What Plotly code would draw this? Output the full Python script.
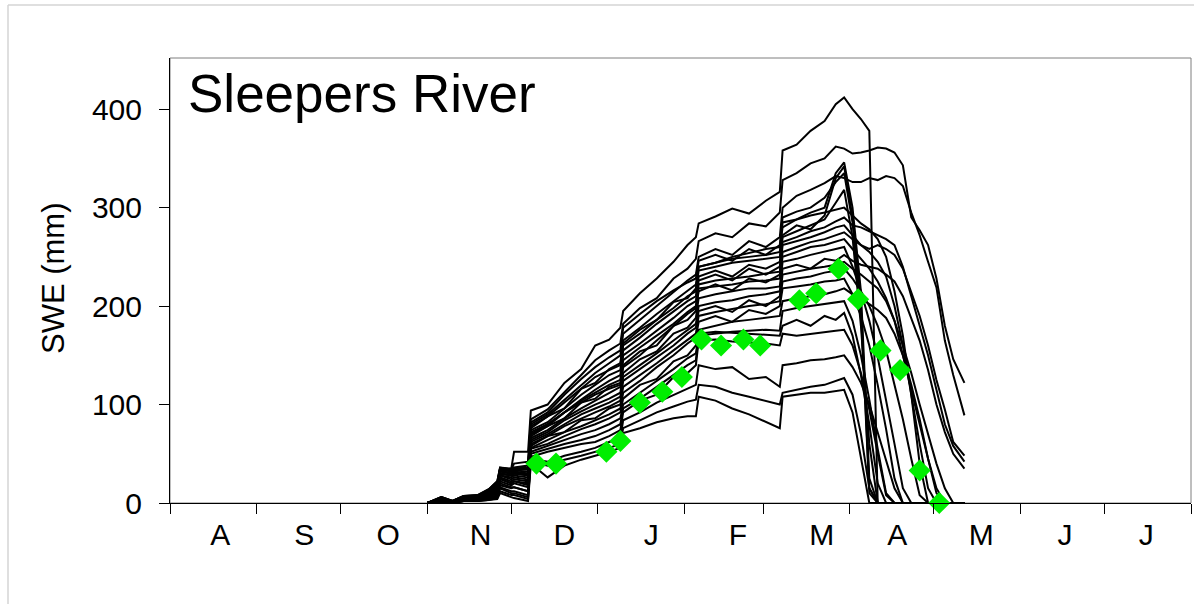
import plotly.graph_objects as go

# Day of water year (0 = 1 August) for every simulated value below
days = [92, 97, 101, 105, 110, 114, 117, 118, 122, 123, 128, 129, 135, 141, 147,
        152, 157, 161, 162, 168, 174, 180, 185, 188, 189, 195, 201, 207, 213, 218,
        219, 224, 229, 234, 238, 241, 244, 247, 250, 253, 256, 259, 262, 265, 268,
        271, 274, 277, 280, 284]

# Simulated snow water equivalent (mm), one list per ensemble member
swe_01 = [0, 6, 2, 7, 8, 14, 22, 36, 35, 52, 52, 94, 100, 122, 136, 160, 166, 178, 195, 213, 228, 245, 262, 270, 284, 291, 299, 294, 307, 316, 358, 364, 378, 388, 405, 412, 400, 390, 378, 0, 0, 0, 0, 0, 0, 0, 0, 0, 0, 0]
swe_02 = [0, 5, 2, 6, 7, 13, 20, 35, 34, 36, 38, 85, 95, 112, 130, 145, 155, 162, 182, 198, 208, 228, 238, 248, 266, 274, 270, 284, 281, 295, 328, 335, 345, 350, 362, 360, 355, 356, 358, 361, 360, 356, 343, 290, 277, 262, 228, 180, 146, 122]
swe_03 = [0, 5, 1, 6, 6, 12, 18, 34, 33, 35, 36, 80, 90, 105, 120, 132, 142, 150, 172, 186, 200, 214, 226, 232, 250, 258, 252, 266, 260, 270, 300, 312, 318, 325, 332, 330, 326, 326, 330, 328, 332, 330, 322, 295, 272, 245, 219, 165, 130, 89]
swe_04 = [0, 6, 2, 7, 7, 13, 20, 35, 32, 34, 34, 76, 88, 96, 116, 122, 136, 142, 165, 178, 192, 205, 216, 222, 240, 244, 250, 254, 258, 260, 280, 288, 295, 300, 335, 346, 300, 215, 25, 0, 0, 0, 0, 0, 0, 0, 0, 0, 0, 0]
swe_05 = [0, 4, 1, 5, 6, 10, 16, 33, 30, 33, 32, 74, 82, 96, 110, 120, 130, 135, 160, 172, 186, 198, 210, 215, 236, 240, 244, 246, 248, 250, 272, 282, 278, 292, 330, 342, 290, 200, 15, 0, 0, 0, 0, 0, 0, 0, 0, 0, 0, 0]
swe_06 = [0, 6, 2, 7, 8, 14, 22, 36, 34, 40, 42, 82, 92, 110, 126, 138, 148, 155, 178, 192, 205, 216, 224, 228, 246, 252, 246, 258, 252, 262, 290, 296, 300, 310, 326, 335, 285, 195, 10, 0, 0, 0, 0, 0, 0, 0, 0, 0, 0, 0]
swe_07 = [0, 4, 1, 5, 5, 10, 15, 32, 30, 32, 30, 70, 80, 92, 105, 115, 124, 130, 155, 168, 182, 195, 205, 210, 230, 236, 230, 242, 238, 245, 270, 276, 282, 288, 305, 318, 270, 180, 60, 0, 0, 0, 0, 0, 0, 0, 0, 0, 0, 0]
swe_08 = [0, 5, 1, 6, 7, 12, 18, 34, 32, 34, 35, 78, 88, 102, 116, 128, 135, 140, 162, 176, 186, 204, 208, 218, 240, 244, 248, 250, 252, 255, 285, 288, 292, 295, 298, 300, 292, 284, 278, 268, 250, 215, 170, 110, 40, 0, 0, 0, 0, 0]
swe_09 = [0, 4, 1, 5, 5, 9, 14, 30, 28, 30, 28, 72, 80, 92, 104, 112, 120, 125, 150, 162, 175, 188, 200, 205, 226, 232, 226, 238, 232, 240, 265, 270, 276, 280, 286, 290, 282, 280, 276, 272, 268, 262, 240, 210, 180, 150, 115, 80, 58, 42]
swe_10 = [0, 5, 1, 5, 6, 11, 16, 32, 30, 31, 30, 68, 78, 86, 102, 106, 118, 122, 145, 158, 170, 182, 194, 200, 222, 226, 228, 230, 233, 235, 262, 266, 270, 275, 280, 282, 272, 262, 255, 245, 230, 200, 160, 110, 60, 15, 0, 0, 0, 0]
swe_11 = [0, 3, 0, 4, 5, 8, 12, 28, 26, 28, 26, 66, 74, 86, 96, 104, 112, 118, 140, 154, 160, 180, 186, 195, 218, 220, 222, 225, 226, 228, 255, 260, 265, 268, 272, 275, 268, 262, 258, 262, 258, 252, 238, 215, 190, 160, 125, 95, 62, 48]
swe_12 = [0, 4, 1, 5, 6, 10, 15, 30, 28, 30, 29, 70, 78, 92, 102, 110, 116, 120, 138, 150, 165, 180, 192, 198, 215, 222, 216, 228, 224, 232, 250, 255, 260, 262, 265, 268, 258, 248, 238, 225, 208, 185, 150, 112, 78, 45, 15, 0, 0, 0]
swe_13 = [0, 3, 0, 4, 4, 8, 12, 26, 22, 24, 22, 64, 72, 84, 93, 100, 106, 112, 132, 146, 154, 172, 178, 188, 208, 212, 215, 218, 218, 220, 245, 248, 252, 255, 258, 260, 240, 215, 185, 148, 105, 60, 15, 0, 0, 0, 0, 0, 0, 0]
swe_14 = [0, 3, 0, 3, 4, 7, 10, 25, 20, 22, 20, 62, 70, 80, 90, 96, 102, 108, 128, 140, 152, 165, 176, 182, 200, 204, 206, 210, 212, 215, 238, 242, 238, 248, 246, 252, 246, 242, 240, 238, 232, 225, 210, 188, 165, 135, 100, 72, 50, 35]
swe_15 = [0, 4, 1, 5, 5, 10, 14, 30, 28, 30, 28, 60, 68, 78, 86, 92, 98, 104, 124, 136, 148, 160, 172, 178, 195, 200, 194, 206, 200, 210, 232, 235, 238, 240, 242, 245, 238, 232, 225, 218, 205, 185, 160, 132, 100, 70, 40, 15, 0, 0]
swe_16 = [0, 3, 0, 3, 3, 6, 10, 22, 18, 20, 16, 58, 68, 72, 84, 86, 96, 100, 118, 130, 142, 155, 166, 172, 190, 194, 197, 200, 202, 205, 225, 228, 230, 234, 236, 238, 228, 215, 200, 180, 155, 120, 85, 45, 8, 0, 0, 0, 0, 0]
swe_17 = [0, 4, 1, 4, 5, 9, 12, 28, 24, 26, 24, 56, 64, 72, 78, 84, 90, 96, 112, 124, 138, 150, 162, 168, 184, 190, 184, 196, 192, 200, 218, 220, 222, 225, 226, 228, 212, 190, 160, 120, 75, 25, 0, 0, 0, 0, 0, 0, 0, 0]
swe_18 = [0, 2, 0, 3, 3, 5, 8, 18, 15, 16, 12, 55, 60, 68, 75, 80, 86, 92, 106, 120, 126, 144, 150, 160, 176, 180, 184, 186, 188, 190, 205, 208, 210, 212, 215, 218, 212, 208, 202, 196, 188, 172, 150, 120, 85, 45, 10, 0, 0, 0]
swe_19 = [0, 3, 0, 4, 4, 7, 10, 24, 20, 22, 18, 52, 58, 64, 70, 74, 80, 86, 100, 112, 124, 136, 147, 152, 170, 172, 174, 175, 176, 175, 195, 198, 200, 202, 204, 205, 185, 150, 105, 55, 10, 0, 0, 0, 0, 0, 0, 0, 0, 0]
swe_20 = [0, 2, 0, 2, 2, 4, 6, 15, 10, 10, 6, 50, 55, 60, 64, 68, 74, 80, 96, 106, 118, 130, 140, 145, 172, 174, 173, 172, 171, 170, 180, 186, 180, 190, 186, 193, 170, 130, 80, 20, 0, 0, 0, 0, 0, 0, 0, 0, 0, 0]
swe_21 = [0, 3, 0, 3, 3, 5, 8, 20, 16, 16, 12, 47, 52, 56, 60, 62, 68, 74, 92, 104, 110, 128, 132, 140, 165, 166, 164, 163, 162, 160, 172, 170, 172, 174, 175, 176, 160, 132, 95, 50, 8, 0, 0, 0, 0, 0, 0, 0, 0, 0]
swe_22 = [0, 2, 0, 2, 2, 3, 5, 12, 8, 8, 4, 45, 42, 48, 52, 56, 62, 66, 84, 92, 102, 110, 116, 120, 140, 136, 138, 126, 128, 118, 140, 142, 145, 146, 148, 150, 138, 122, 100, 72, 42, 15, 0, 0, 0, 0, 0, 0, 0, 0]
swe_23 = [0, 2, 0, 3, 3, 4, 6, 16, 12, 12, 8, 42, 38, 44, 48, 52, 56, 60, 76, 84, 92, 98, 103, 105, 120, 118, 112, 108, 104, 100, 112, 115, 118, 120, 124, 127, 110, 70, 15, 0, 0, 0, 0, 0, 0, 0, 0, 0, 0, 0]
swe_24 = [0, 1, 0, 2, 2, 3, 4, 10, 6, 5, 2, 40, 26, 38, 44, 48, 52, 56, 71, 76, 82, 86, 88, 88, 108, 104, 96, 90, 82, 76, 108, 110, 112, 112, 114, 115, 92, 45, 0, 0, 0, 0, 0, 0, 0, 0, 0, 0, 0, 0]

# Observed snow water equivalent (snow course measurements)
obs_days = [131, 138, 156, 161, 168, 176, 183, 190, 197, 205, 211, 225, 231, 239, 246, 254, 261, 268, 275]
obs_swe = [40, 40, 52, 63, 102, 113, 128, 166, 160, 166, 160, 206, 213, 238, 207, 155, 135, 33, 0]

# Axis ticks
month_starts = [0, 31, 61, 92, 122, 153, 184, 212, 243, 273, 304, 334, 365]
month_label_days = [18, 48, 78, 111, 141, 172, 203, 233, 260, 290, 320, 349]
month_letters = ["A", "S", "O", "N", "D", "J", "F", "M", "A", "M", "J", "J"]
swe_ticks = [0, 100, 200, 300, 400]

ensemble = [swe_01, swe_02, swe_03, swe_04, swe_05, swe_06, swe_07, swe_08,
            swe_09, swe_10, swe_11, swe_12, swe_13, swe_14, swe_15, swe_16,
            swe_17, swe_18, swe_19, swe_20, swe_21, swe_22, swe_23, swe_24]
for member in ensemble:
    assert len(member) == len(days)

FONT = "Liberation Sans, Arial, Helvetica, sans-serif"
W, H = 1194, 604
L, R, T, B = 170, 3, 58, 101
plot_w = W - L - R
plot_h = H - T - B


def px_x(px):
    return (px - L) / plot_w


def px_y(py):
    return (H - B - py) / plot_h


fig = go.Figure()
for member in ensemble:
    fig.add_trace(go.Scatter(
        x=days, y=member, mode="lines",
        line=dict(color="black", width=2),
        hoverinfo="skip", showlegend=False,
    ))

fig.add_trace(go.Scatter(
    x=obs_days, y=obs_swe, mode="markers",
    marker=dict(symbol="diamond", size=17, color="#00ee00", line=dict(width=0)),
    cliponaxis=False, showlegend=False,
))

fig.update_layout(
    width=W, height=H,
    margin=dict(l=L, r=R, t=T, b=B),
    paper_bgcolor="white", plot_bgcolor="white",
    font=dict(family=FONT, color="black", size=30),
    showlegend=False,
    xaxis=dict(
        range=[0, 365], tickmode="array",
        tickvals=month_label_days, ticktext=month_letters,
        ticks="", showgrid=False, zeroline=False,
        showline=True, linecolor="black", linewidth=1,
        tickfont=dict(size=30), ticklabelstandoff=5,
        minor=dict(tickmode="array", tickvals=month_starts, ticks="outside",
                   ticklen=10, tickwidth=1, tickcolor="black", showgrid=False),
    ),
    yaxis=dict(
        range=[0, 452], tickmode="array", tickvals=swe_ticks,
        ticks="outside", ticklen=10, tickwidth=1, tickcolor="black",
        showgrid=False, zeroline=False,
        showline=True, linecolor="black", linewidth=1,
        tickfont=dict(size=30), ticklabelstandoff=11,
    ),
    shapes=[
        # plot area frame
        dict(type="rect", xref="paper", yref="paper", x0=0, x1=1, y0=0, y1=1,
             line=dict(color="#7f7f7f", width=1), layer="below"),
        # chart area border
        dict(type="line", xref="paper", yref="paper",
             x0=px_x(8), x1=px_x(1194), y0=px_y(5), y1=px_y(5),
             line=dict(color="#d4d4d4", width=1.5)),
        dict(type="line", xref="paper", yref="paper",
             x0=px_x(8), x1=px_x(8), y0=px_y(5), y1=px_y(604),
             line=dict(color="#d4d4d4", width=1.5)),
    ],
    annotations=[
        dict(text="Sleepers River", xref="paper", yref="paper",
             x=px_x(186), y=px_y(94), xanchor="left", yanchor="middle",
             showarrow=False, font=dict(size=53, family=FONT, color="black")),
        dict(text="SWE (mm)", xref="paper", yref="paper",
             x=px_x(53), y=px_y(278), xanchor="center", yanchor="middle",
             textangle=-90, showarrow=False,
             font=dict(size=31, family=FONT, color="black")),
    ],
)

fig.write_html("out.html")
